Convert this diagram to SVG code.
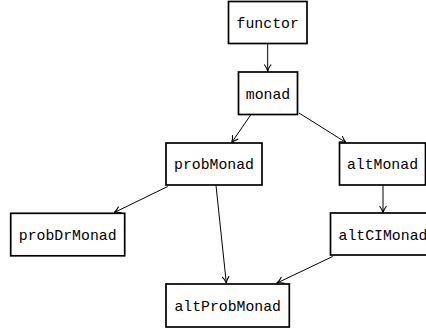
<svg xmlns="http://www.w3.org/2000/svg" width="426" height="333" viewBox="0 0 426 333">
<style>
.box{fill:#fff;stroke:#000;stroke-width:1.7}
.lbl{font-family:"Liberation Mono","DejaVu Sans Mono",monospace;font-size:14.8px;text-anchor:middle;fill:#000}
.edge{stroke:#000;stroke-width:1;fill:none;marker-end:url(#arr)}
</style>
<defs>
<marker id="arr" viewBox="0 0 10 10" refX="9.5" refY="5" markerWidth="10" markerHeight="10" markerUnits="userSpaceOnUse" orient="auto">
<path d="M3,1.5 Q6,4 9.5,5 Q6,6 3,8.5" fill="none" stroke="#000" stroke-width="1.1"/>
</marker>
</defs>
<g id="connectors">
<line class="edge" x1="267.7" y1="44" x2="267.7" y2="71"/>
<line class="edge" x1="250.7" y1="115" x2="231.7" y2="142.5"/>
<line class="edge" x1="299" y1="113" x2="346" y2="142.5"/>
<line class="edge" x1="167.7" y1="186.5" x2="114.3" y2="212.5"/>
<line class="edge" x1="216" y1="185.5" x2="226.3" y2="283"/>
<line class="edge" x1="383" y1="185.5" x2="383" y2="212.5"/>
<line class="edge" x1="332.7" y1="256.5" x2="277" y2="283"/>
</g>
<g id="functor"><rect class="box" x="228.5" y="1.5" width="78.5" height="42"/><text class="lbl" x="267.7" y="28">functor</text></g>
<g id="monad"><rect class="box" x="238.5" y="72" width="59" height="42.5"/><text class="lbl" x="268" y="98.5">monad</text></g>
<g id="probMonad"><rect class="box" x="166" y="143" width="96" height="42"/><text class="lbl" x="214" y="169">probMonad</text></g>
<g id="altMonad"><rect class="box" x="339.5" y="143" width="86" height="42"/><text class="lbl" x="382.5" y="169">altMonad</text></g>
<g id="probDrMonad"><rect class="box" x="10.7" y="213.3" width="114" height="42.5"/><text class="lbl" x="67.7" y="239.8">probDrMonad</text></g>
<g id="altCIMonad"><rect class="box" x="330.5" y="213" width="105" height="42"/><text class="lbl" x="383" y="239.5">altCIMonad</text></g>
<g id="altProbMonad"><rect class="box" x="166" y="284" width="123.3" height="43"/><text class="lbl" x="227.7" y="310.8">altProbMonad</text></g>
</svg>
